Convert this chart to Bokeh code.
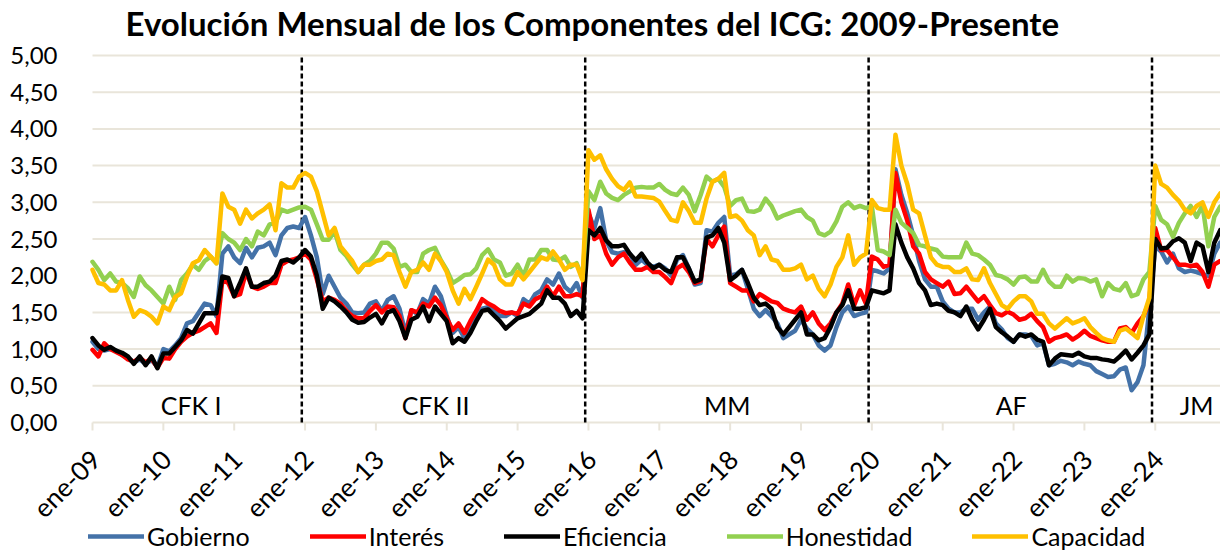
from bokeh.plotting import figure
from bokeh.models import Legend, LegendItem, Label, Range1d
from bokeh.core.properties import value
from bokeh.embed import file_html
from bokeh.resources import INLINE
import math

# ---------------- data (monthly, ene-09 .. dic-24) ----------------
tick_years = list(range(2009, 2025))
tick_labels = ["ene-%02d" % (y % 100) for y in tick_years]
y_ticks = [0, 0.5, 1, 1.5, 2, 2.5, 3, 3.5, 4, 4.5, 5]
y_tick_labels = [("%.2f" % t).replace(".", ",") for t in y_ticks]

gobierno = [
    1.10, 1.00, 0.98, 1.00, 0.98, 0.92, 0.88, 0.82, 0.86, 0.80, 0.85, 0.76, 1.00, 0.97, 1.05, 1.15, 1.35, 1.38, 1.50, 1.62, 1.60, 1.45, 2.30, 2.40, 2.25,
    2.17, 2.38, 2.25, 2.38, 2.40, 2.45, 2.28, 2.55, 2.65, 2.67, 2.65, 2.80, 2.55, 2.25, 1.75, 2.00, 1.85, 1.70, 1.62, 1.50, 1.49, 1.50, 1.62,
    1.65, 1.52, 1.67, 1.72, 1.55, 1.22, 1.53, 1.48, 1.68, 1.62, 1.85, 1.72, 1.45, 1.22, 1.30, 1.15, 1.32, 1.45, 1.55, 1.57, 1.52, 1.45, 1.45, 1.50,
    1.45, 1.68, 1.62, 1.75, 1.80, 1.95, 1.88, 2.03, 1.85, 1.78, 1.90, 1.70, 2.85, 2.65, 2.92, 2.48, 2.32, 2.30, 2.32, 2.30, 2.15, 2.22, 2.15, 2.12,
    2.15, 2.10, 2.00, 2.22, 2.28, 2.10, 1.88, 1.90, 2.62, 2.60, 2.72, 2.80, 2.00, 2.02, 2.08, 1.82, 1.55, 1.45, 1.53, 1.45, 1.35, 1.15, 1.20, 1.25,
    1.40, 1.28, 1.20, 1.05, 0.98, 1.05, 1.30, 1.50, 1.58, 1.45, 1.48, 1.50, 2.08, 2.06, 2.03, 2.10, 3.45, 3.10, 2.85, 2.55, 2.20, 1.95, 1.85,
    1.85, 1.65, 1.55, 1.50, 1.50, 1.55, 1.55, 1.40, 1.50, 1.58, 1.35, 1.27, 1.15, 1.10, 1.20, 1.20, 1.18, 1.05, 1.08, 0.78, 0.80, 0.84, 0.82, 0.78,
    0.83, 0.80, 0.78, 0.70, 0.66, 0.62, 0.63, 0.72, 0.75, 0.44, 0.55, 0.78, 1.55, 2.40, 2.33, 2.18, 2.30, 2.10, 2.05, 2.07, 2.05, 2.02, 2.00, 2.30, 2.45,
]
interes = [
    0.99, 0.90, 1.08, 1.00, 0.96, 0.92, 0.86, 0.83, 0.88, 0.82, 0.87, 0.75, 0.88, 0.87, 1.00, 1.10, 1.17, 1.22, 1.25, 1.30, 1.35, 1.22, 1.94, 1.90, 1.72,
    1.75, 2.05, 1.85, 1.82, 1.85, 1.90, 1.90, 2.15, 2.20, 2.22, 2.25, 2.30, 2.22, 1.95, 1.65, 1.70, 1.67, 1.62, 1.52, 1.45, 1.42, 1.42, 1.52,
    1.60, 1.50, 1.58, 1.57, 1.45, 1.15, 1.53, 1.50, 1.62, 1.58, 1.70, 1.60, 1.42, 1.26, 1.35, 1.22, 1.38, 1.52, 1.68, 1.62, 1.58, 1.52, 1.49, 1.50,
    1.48, 1.62, 1.58, 1.68, 1.72, 1.85, 1.72, 1.85, 1.72, 1.72, 1.75, 1.72, 2.90, 2.50, 2.55, 2.30, 2.15, 2.25, 2.30, 2.18, 2.08, 2.08, 2.12, 2.05,
    2.05, 1.98, 1.90, 2.10, 2.15, 2.05, 1.90, 1.93, 2.50, 2.40, 2.55, 2.67, 1.90, 1.85, 1.80, 1.80, 1.65, 1.75, 1.70, 1.65, 1.63, 1.55, 1.52, 1.50,
    1.58, 1.40, 1.50, 1.35, 1.26, 1.35, 1.50, 1.62, 1.88, 1.60, 1.80, 1.62, 2.26, 2.22, 2.12, 2.15, 3.40, 3.00, 2.75, 2.40, 2.30, 2.05, 1.95,
    1.90, 1.85, 1.92, 1.75, 1.76, 1.85, 1.75, 1.65, 1.72, 1.60, 1.49, 1.46, 1.51, 1.47, 1.40, 1.42, 1.48, 1.38, 1.30, 1.10, 1.15, 1.17, 1.20, 1.13,
    1.18, 1.25, 1.18, 1.15, 1.12, 1.10, 1.10, 1.28, 1.30, 1.22, 1.35, 1.45, 1.65, 2.65, 2.35, 2.35, 2.25, 2.15, 2.15, 2.13, 2.15, 2.05, 1.85, 2.15, 2.20,
]
eficiencia = [
    1.15, 1.05, 0.99, 1.03, 0.98, 0.95, 0.90, 0.80, 0.90, 0.78, 0.90, 0.74, 0.94, 0.94, 1.03, 1.12, 1.26, 1.21, 1.35, 1.49, 1.49, 1.49, 1.99, 1.97, 1.72,
    1.90, 2.10, 1.85, 1.85, 1.90, 1.92, 2.00, 2.20, 2.22, 2.18, 2.25, 2.35, 2.26, 2.00, 1.55, 1.70, 1.65, 1.58, 1.50, 1.40, 1.36, 1.37, 1.43,
    1.48, 1.35, 1.50, 1.53, 1.38, 1.15, 1.40, 1.44, 1.58, 1.38, 1.58, 1.48, 1.38, 1.08, 1.15, 1.10, 1.22, 1.38, 1.52, 1.54, 1.46, 1.38, 1.28, 1.35,
    1.42, 1.45, 1.48, 1.55, 1.62, 1.80, 1.70, 1.70, 1.62, 1.45, 1.52, 1.42, 2.62, 2.55, 2.65, 2.48, 2.40, 2.40, 2.42, 2.30, 2.21, 2.30, 2.18, 2.10,
    2.15, 2.08, 2.05, 2.25, 2.25, 2.10, 1.92, 1.95, 2.52, 2.55, 2.65, 2.45, 1.94, 2.00, 2.08, 1.90, 1.70, 1.60, 1.62, 1.55, 1.30, 1.20, 1.30, 1.40,
    1.50, 1.20, 1.20, 1.12, 1.15, 1.30, 1.50, 1.60, 1.80, 1.55, 1.55, 1.57, 1.80, 1.78, 1.76, 1.80, 2.70, 2.45, 2.25, 2.10, 1.90, 1.80, 1.60,
    1.62, 1.60, 1.52, 1.50, 1.45, 1.58, 1.40, 1.27, 1.40, 1.55, 1.30, 1.23, 1.17, 1.10, 1.20, 1.17, 1.20, 1.13, 1.10, 0.78, 0.87, 0.93, 0.92, 0.91,
    0.95, 0.90, 0.88, 0.88, 0.86, 0.85, 0.83, 0.90, 0.98, 0.86, 0.95, 1.05, 1.20, 2.50, 2.37, 2.38, 2.47, 2.51, 2.45, 2.20, 2.45, 2.40, 2.05, 2.45, 2.62,
]
honestidad = [
    2.19, 2.08, 1.94, 2.03, 1.92, 1.90, 1.83, 1.71, 1.99, 1.87, 1.80, 1.71, 1.62, 1.85, 1.67, 1.94, 2.03, 2.15, 2.08, 2.20, 2.26, 2.17, 2.58, 2.50, 2.45,
    2.35, 2.50, 2.40, 2.60, 2.55, 2.70, 2.72, 2.90, 2.87, 2.90, 2.93, 2.94, 2.90, 2.70, 2.49, 2.49, 2.60, 2.35, 2.27, 2.15, 2.05, 2.15, 2.20,
    2.30, 2.45, 2.45, 2.37, 2.12, 2.15, 2.05, 2.05, 2.30, 2.35, 2.38, 2.21, 2.08, 1.90, 1.95, 2.01, 2.02, 2.10, 2.28, 2.36, 2.22, 2.18, 2.00, 2.03,
    2.15, 2.00, 2.22, 2.22, 2.35, 2.35, 2.22, 2.21, 2.26, 2.12, 2.17, 1.97, 3.15, 3.03, 3.28, 3.12, 3.06, 3.03, 3.10, 3.15, 3.20, 3.21, 3.20, 3.20,
    3.25, 3.17, 3.12, 3.10, 3.20, 3.10, 2.88, 3.10, 3.35, 3.28, 3.32, 3.21, 2.95, 3.03, 3.05, 2.88, 2.87, 2.90, 3.05, 2.95, 2.78, 2.82, 2.85, 2.88,
    2.90, 2.80, 2.75, 2.58, 2.55, 2.60, 2.74, 2.94, 3.00, 2.92, 2.95, 2.92, 2.95, 2.35, 2.33, 2.28, 2.90, 2.72, 2.65, 2.58, 2.42, 2.40, 2.37,
    2.35, 2.26, 2.25, 2.25, 2.25, 2.45, 2.30, 2.28, 2.22, 2.15, 2.01, 1.99, 1.95, 1.88, 1.98, 1.99, 1.92, 1.92, 2.08, 1.92, 1.85, 1.85, 2.00, 1.92,
    1.97, 1.96, 1.92, 1.95, 1.72, 1.90, 1.82, 1.80, 1.90, 1.72, 1.75, 1.95, 2.05, 2.95, 2.76, 2.70, 2.53, 2.72, 2.85, 2.95, 2.80, 2.96, 2.40, 2.80, 2.94,
]
capacidad = [
    2.08, 1.90, 1.88, 1.80, 1.80, 1.94, 1.67, 1.44, 1.53, 1.50, 1.44, 1.35, 1.58, 1.53, 1.71, 1.76, 1.99, 2.17, 2.21, 2.35, 2.26, 2.17, 3.12, 2.94, 2.90,
    2.71, 2.90, 2.78, 2.85, 2.90, 2.97, 2.62, 3.26, 3.20, 3.20, 3.35, 3.40, 3.35, 3.15, 2.85, 2.55, 2.65, 2.40, 2.30, 2.20, 2.05, 2.15, 2.15,
    2.20, 2.22, 2.30, 2.28, 2.05, 1.85, 2.05, 2.08, 2.18, 2.08, 2.30, 2.20, 2.05, 1.80, 1.62, 1.82, 1.68, 1.85, 2.03, 2.22, 2.15, 1.95, 1.88, 1.88,
    2.05, 1.95, 2.05, 2.15, 2.25, 2.22, 2.33, 2.22, 2.08, 2.15, 2.15, 1.94, 3.71, 3.58, 3.64, 3.45, 3.32, 3.22, 3.17, 3.27, 3.08, 3.08, 3.07, 3.06,
    3.01, 2.88, 2.76, 2.74, 3.00, 2.88, 2.72, 2.72, 3.05, 3.28, 3.32, 3.40, 2.80, 2.82, 2.75, 2.62, 2.55, 2.28, 2.40, 2.22, 2.20, 2.08, 2.08, 2.10,
    2.15, 1.95, 2.00, 1.82, 1.72, 1.88, 2.12, 2.25, 2.55, 2.15, 2.25, 2.30, 3.03, 2.92, 2.90, 2.90, 3.92, 3.50, 3.25, 2.90, 2.85, 2.55, 2.25,
    2.15, 2.12, 2.12, 2.05, 2.05, 2.10, 1.95, 1.94, 2.10, 1.90, 1.75, 1.60, 1.55, 1.65, 1.72, 1.72, 1.65, 1.48, 1.48, 1.35, 1.28, 1.35, 1.42, 1.35,
    1.38, 1.42, 1.30, 1.22, 1.15, 1.12, 1.10, 1.25, 1.28, 1.22, 1.15, 1.45, 1.70, 3.50, 3.25, 3.20, 3.10, 3.02, 2.90, 2.85, 2.95, 3.00, 2.80, 3.00, 3.12,
]

series_names = ["Gobierno", "Interés", "Eficiencia", "Honestidad", "Capacidad"]
series_values = [gobierno, interes, eficiencia, honestidad, capacidad]
series_colors = ["#4472A8", "#FF0000", "#000000", "#92D050", "#FFC000"]

period_names = ["CFK I", "CFK II", "MM", "AF", "JM"]
period_label_x = [16.7, 58.1, 107.5, 155.6, 187.0]
period_breaks = [35.45, 83.45, 131.45, 179.45]

FONT = "Lato"
GRID = "#E9E5DA"
X_END = 191.05
PX_PER_MONTH = 1128 / X_END
X_START = -84 / PX_PER_MONTH      # room on the left for the value labels
PX_PER_UNIT = 367 / 5.0
Y_TOP = 5 + 12 / PX_PER_UNIT      # small room above 5,00 so its label is not cut
Y_BOTTOM = -130 / PX_PER_UNIT     # room below 0 for date labels + legend

p = figure(frame_width=1212, frame_height=12 + 367 + 130, output_backend="svg",
           toolbar_location=None, x_range=Range1d(X_START, X_END),
           y_range=Range1d(Y_BOTTOM, Y_TOP), x_axis_location=None, y_axis_location=None,
           min_border_left=8, min_border_right=0, min_border_top=43,
           min_border_bottom=0)
p.outline_line_color = None
p.background_fill_color = "white"
p.border_fill_color = "white"
p.xgrid.visible = False
p.ygrid.visible = False

p.title.text = "Evolución Mensual de los Componentes del ICG: 2009-Presente"
p.title.text_font = FONT
p.title.text_font_style = "bold"
p.title.text_font_size = "33px"
p.title.align = "left"
p.title.offset = 117
p.title.standoff = 1
p.title.text_color = "black"

# value axis: gridlines + labels
n_y = len(y_ticks)
p.segment(x0=[0] * n_y, y0=y_ticks, x1=[X_END] * n_y, y1=y_ticks,
          line_color=GRID, line_width=2)
p.text(x=[0] * n_y, y=y_ticks, text=y_tick_labels, text_align="right",
       text_baseline="middle", x_offset=-35, text_font=value(FONT),
       text_font_size="24px", text_color="black")

# date axis at y = 0: tick marks and rotated labels
xt = [12 * k for k in range(len(tick_years))]
p.segment(x0=xt, y0=[0] * len(xt), x1=xt, y1=[-8 / PX_PER_UNIT] * len(xt),
          line_color=GRID, line_width=2)
p.text(x=xt, y=[0] * len(xt), text=tick_labels, angle=math.pi / 4,
       text_align="right", text_baseline="middle", x_offset=3, y_offset=32,
       text_font=value(FONT), text_font_size="26px", text_color="black")

# period separators (0 .. 5)
p.segment(x0=period_breaks, y0=[0] * len(period_breaks),
          x1=period_breaks, y1=[5] * len(period_breaks),
          line_color="black", line_width=2.5, line_dash="5 3")

items = []
for name, vals, col in zip(series_names, series_values, series_colors):
    r = p.line(list(range(len(vals))), vals, line_color=col, line_width=4.5,
               line_join="round", line_cap="round")
    items.append(LegendItem(label=name, renderers=[r]))

for name, xx in zip(period_names, period_label_x):
    p.add_layout(Label(x=xx, y=0.235, text=name, text_font=FONT,
                       text_font_size="25px", text_align="center",
                       text_baseline="middle", text_color="black"))

legend = Legend(items=items, orientation="horizontal", location=(80, 1),
                glyph_width=56, glyph_height=20, label_standoff=3, spacing=60,
                padding=0, margin=0, border_line_color=None,
                background_fill_alpha=0, label_text_font=FONT,
                label_text_font_size="25px", label_text_color="black")
p.add_layout(legend, "center")

open("out.html", "w").write(file_html(p, INLINE))
